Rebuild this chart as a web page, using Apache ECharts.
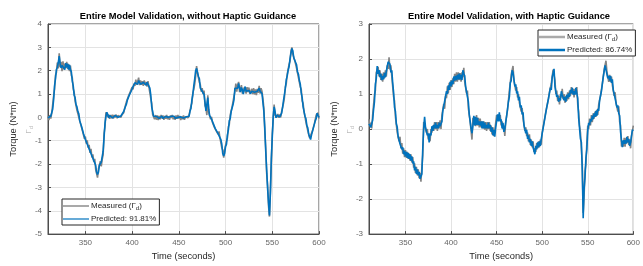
<!DOCTYPE html>
<html>
<head>
<meta charset="utf-8">
<script src="https://cdn.jsdelivr.net/npm/echarts@6/dist/echarts.min.js"></script>
<style>
  html, body { margin: 0; padding: 0; background: #fff; }
  #ec { width: 643px; height: 266px; }
</style>
</head>
<body>
<div id="ec"></div>
<script>
// time axis: one sample per second, 310 .. 600 s
var timeStart = 310;
var timeStep = 1;
var xTicks = [350, 400, 450, 500, 550, 600];

var titleLeft = 'Entire Model Validation, without Haptic Guidance';
var titleRight = 'Entire Model Validation, with Haptic Guidance';
var nameMeasured = 'Measured (Γd)';
var namePredLeft = 'Predicted: 91.81%';
var namePredRight = 'Predicted: 86.74%';

// left: without haptic guidance
var leftMeasured = [
  0.05, -0.12, 0.10, -0.05, 0.18, 0.22, 0.90, 1.20, 1.80, 1.92,
  2.35, 2.10, 2.75, 2.15, 2.38, 1.98, 2.40, 2.05, 2.30, 2.12,
  2.38, 2.08, 2.28, 1.98, 2.22, 1.80, 1.70, 1.22, 1.08, 0.70,
  0.68, 0.30, 0.38, 0.00, -0.02, -0.30, -0.28, -0.60, -0.55, -0.92,
  -0.82, -1.12, -0.98, -1.30, -1.18, -1.52, -1.35, -1.72, -1.58, -1.90,
  -1.78, -2.22, -2.15, -2.58, -2.20, -2.22, -1.88, -2.10, -1.80, -1.60,
  -0.70, -0.40, 0.22, 0.30, 0.02, 0.12, -0.06, 0.10, -0.04, 0.12,
  -0.05, 0.10, 0.00, 0.12, -0.04, 0.08, 0.02, 0.14, 0.00, 0.10,
  0.05, 0.20, 0.38, 0.40, 0.68, 0.62, 0.90, 0.82, 1.10, 1.02,
  1.30, 1.20, 1.45, 1.35, 1.62, 1.40, 1.55, 1.70, 1.38, 1.58,
  1.40, 1.55, 1.35, 1.58, 1.40, 1.52, 1.32, 1.55, 1.30, 1.35,
  0.80, 0.60, 0.12, 0.18, -0.08, 0.10, -0.10, 0.08, -0.12, 0.06,
  -0.08, 0.10, -0.05, 0.08, -0.10, 0.06, -0.06, 0.10, -0.08, 0.05,
  -0.10, 0.08, -0.02, 0.10, -0.08, 0.04, -0.10, 0.08, -0.06, 0.10,
  -0.05, 0.06, -0.12, 0.04, -0.08, 0.08, -0.10, 0.02, -0.06, 0.05,
  -0.02, 0.10, 0.18, 0.50, 0.62, 1.05, 1.20, 1.42, 1.75, 2.20,
  1.90, 1.85, 1.50, 1.40, 1.10, 1.25, 1.00, 1.15, 0.50, 0.40,
  0.10, 0.95, 0.20, 0.15, -0.08, 0.02, -0.22, -0.18, -0.42, -0.38,
  -0.58, -0.50, -0.72, -0.60, -0.88, -0.80, -1.30, -1.40, -1.72, -1.40,
  -1.38, -1.00, -0.88, -0.40, -0.30, 0.10, 0.12, 0.45, 0.42, 0.90,
  1.10, 1.45, 1.10, 1.40, 1.52, 1.08, 1.25, 1.38, 1.02, 1.12,
  1.28, 1.20, 1.02, 1.30, 1.08, 1.28, 1.00, 1.12, 1.22, 1.00,
  1.25, 0.98, 1.20, 0.95, 1.22, 1.05, 1.35, 1.02, 1.25, 1.12,
  0.80, 0.40, -0.60, -1.30, -2.40, -2.90, -3.80, -4.25, -3.10, -1.90,
  -0.70, -0.10, 0.55, 0.10, 0.08, 0.00, 0.15, -0.02, 0.12, 0.00,
  0.25, 0.30, 0.60, 0.85, 1.30, 1.45, 1.85, 1.92, 2.28, 2.40,
  2.85, 3.00, 2.70, 2.70, 2.45, 2.50, 2.10, 2.08, 1.70, 1.65,
  1.30, 1.20, 0.70, 0.60, 0.25, 0.20, -0.20, -0.28, -0.58, -0.65,
  -0.88, -0.85, -0.90, -0.58, -0.60, -0.28, -0.30, 0.10, 0.05, 0.20,
  -0.05
];
var leftPredicted = [
  -0.02, -0.05, 0.02, 0.06, 0.05, 0.35, 0.75, 1.35, 1.65, 2.05,
  2.15, 2.35, 2.62, 2.30, 2.12, 2.22, 2.20, 2.28, 2.05, 2.32,
  2.15, 2.30, 2.05, 2.25, 2.05, 1.95, 1.55, 1.35, 0.95, 0.85,
  0.55, 0.45, 0.25, 0.15, -0.15, -0.15, -0.40, -0.45, -0.70, -0.75,
  -0.95, -0.98, -1.15, -1.15, -1.35, -1.38, -1.55, -1.58, -1.75, -1.75,
  -1.95, -2.05, -2.35, -2.45, -2.35, -2.05, -2.05, -1.92, -1.95, -1.45,
  -0.85, -0.25, 0.05, 0.22, 0.12, -0.02, 0.08, 0.02, 0.12, -0.02,
  0.04, 0.02, 0.08, 0.00, 0.06, 0.00, 0.08, 0.04, 0.06, 0.02,
  0.10, 0.25, 0.30, 0.48, 0.58, 0.75, 0.78, 0.95, 0.98, 1.12,
  1.18, 1.32, 1.30, 1.48, 1.50, 1.52, 1.42, 1.58, 1.50, 1.42,
  1.50, 1.38, 1.50, 1.42, 1.50, 1.38, 1.50, 1.42, 1.42, 1.25,
  0.95, 0.45, 0.25, 0.05, 0.05, 0.00, 0.04, -0.02, 0.05, -0.04,
  0.04, 0.00, 0.05, -0.04, 0.03, 0.00, 0.04, -0.02, 0.02, 0.00,
  0.02, -0.03, 0.05, 0.00, -0.02, 0.05, -0.04, 0.02, 0.02, 0.00,
  0.03, -0.04, 0.02, -0.02, 0.04, -0.03, 0.02, 0.00, 0.03, -0.02,
  0.05, 0.05, 0.28, 0.38, 0.75, 0.98, 1.35, 1.65, 2.00, 2.10,
  2.05, 1.75, 1.65, 1.25, 1.22, 1.12, 1.08, 0.98, 0.65, 0.28,
  0.22, 0.85, 0.35, 0.08, 0.02, -0.08, -0.12, -0.28, -0.32, -0.48,
  -0.48, -0.62, -0.62, -0.78, -0.78, -0.95, -1.15, -1.55, -1.65, -1.55,
  -1.25, -1.15, -0.75, -0.55, -0.15, -0.05, 0.25, 0.30, 0.55, 0.75,
  1.25, 1.30, 1.25, 1.25, 1.45, 1.25, 1.08, 1.28, 1.18, 1.00,
  1.18, 1.32, 1.12, 1.15, 1.18, 1.15, 1.12, 1.02, 1.12, 1.12,
  1.15, 1.08, 1.08, 1.02, 1.12, 1.12, 1.25, 1.12, 1.18, 1.02,
  0.95, 0.25, -0.45, -1.45, -2.25, -3.05, -3.65, -4.20, -3.25, -1.75,
  -0.85, 0.05, 0.45, 0.25, -0.02, 0.10, 0.02, 0.10, 0.02, 0.10,
  0.18, 0.42, 0.72, 0.98, 1.25, 1.62, 1.78, 2.02, 2.18, 2.52,
  2.75, 2.95, 2.85, 2.55, 2.52, 2.35, 2.25, 1.95, 1.85, 1.58,
  1.42, 1.05, 0.85, 0.45, 0.38, 0.05, -0.05, -0.35, -0.45, -0.72,
  -0.75, -0.95, -0.75, -0.70, -0.45, -0.38, -0.15, -0.05, 0.18, 0.08,
  0.00
];

// right: with haptic guidance
var rightMeasured = [
  0.28, 0.08, 0.18, 0.02, 0.40, 0.45, 0.98, 1.10, 1.62, 1.68,
  1.78, 1.50, 1.68, 1.40, 1.58, 1.35, 1.62, 1.45, 1.68, 1.50,
  1.82, 1.72, 2.05, 1.70, 1.82, 1.50, 1.50, 0.92, 0.80, 0.35,
  0.30, -0.10, -0.05, -0.35, -0.22, -0.55, -0.40, -0.70, -0.55, -0.80,
  -0.60, -0.82, -0.65, -0.85, -0.70, -0.90, -0.72, -0.95, -0.80, -1.10,
  -0.98, -1.25, -1.08, -1.32, -1.15, -1.40, -1.25, -1.50, -1.10, -0.75,
  0.20, 0.22, 0.20, -0.10, 0.00, -0.30, -0.20, -0.35, 0.00, -0.10,
  0.10, -0.05, 0.20, 0.00, 0.20, -0.05, 0.20, 0.02, 0.25, 0.00,
  0.40, 0.35, 0.72, 0.58, 0.95, 0.88, 1.22, 1.02, 1.32, 1.12,
  1.40, 1.20, 1.45, 1.28, 1.58, 1.35, 1.62, 1.35, 1.62, 1.40,
  1.60, 1.35, 1.62, 1.48, 1.75, 1.35, 1.40, 1.02, 1.10, 0.60,
  0.60, 0.20, 0.20, -0.30, 0.32, 0.18, 0.35, 0.08, 0.40, 0.10,
  0.32, 0.05, 0.30, 0.05, 0.22, 0.02, 0.22, -0.02, 0.20, -0.05,
  0.20, 0.00, 0.20, -0.05, 0.10, -0.15, 0.05, -0.20, -0.05, -0.10,
  0.40, 0.25, 0.40, 0.30, 0.40, 0.10, 0.22, 0.00, 0.10, -0.20,
  0.20, 0.20, 0.55, 0.60, 1.10, 1.15, 1.55, 1.50, 1.80, 1.40,
  1.40, 1.10, 1.20, 0.90, 1.00, 0.75, 0.80, 0.50, 0.60, 0.30,
  0.30, -0.05, 0.05, -0.20, -0.10, -0.35, -0.15, -0.45, -0.30, -0.52,
  -0.35, -0.65, -0.55, -0.65, -0.40, -0.55, -0.35, -0.52, -0.30, -0.45,
  -0.10, -0.15, 0.20, 0.15, 0.50, 0.45, 0.75, 0.70, 1.05, 1.00,
  1.30, 1.30, 1.70, 1.55, 1.40, 1.00, 1.10, 0.80, 0.95, 0.70,
  1.00, 0.90, 1.15, 0.85, 1.00, 0.75, 0.95, 0.80, 1.05, 0.85,
  1.10, 0.95, 1.20, 1.00, 1.15, 0.90, 1.15, 1.00, 1.20, 0.70,
  0.50, 0.10, -0.10, -0.55, -1.00, -2.40, -1.90, -1.20, -1.00, -0.40,
  0.10, 0.00, 0.30, 0.10, 0.40, 0.20, 0.45, 0.30, 0.50, 0.35,
  0.55, 0.40, 0.70, 0.65, 0.95, 0.90, 1.30, 1.30, 1.70, 1.65,
  1.95, 1.65, 1.65, 1.35, 1.55, 1.35, 1.50, 1.25, 1.30, 0.95,
  1.05, 0.75, 0.80, 0.50, 0.65, 0.20, 0.10, -0.50, -0.35, -0.50,
  -0.25, -0.50, -0.25, -0.40, -0.20, -0.45, -0.30, -0.55, -0.20, -0.20,
  0.10
];
var rightPredicted = [
  0.15, 0.20, 0.05, 0.15, 0.25, 0.55, 0.78, 1.28, 1.45, 1.80,
  1.58, 1.68, 1.48, 1.58, 1.40, 1.52, 1.42, 1.60, 1.48, 1.65,
  1.62, 1.92, 1.95, 1.85, 1.62, 1.68, 1.32, 1.05, 0.62, 0.50,
  0.15, 0.05, -0.22, -0.18, -0.42, -0.38, -0.58, -0.52, -0.72, -0.62,
  -0.78, -0.65, -0.82, -0.68, -0.85, -0.72, -0.90, -0.78, -0.98, -0.92,
  -1.18, -1.08, -1.28, -1.15, -1.32, -1.22, -1.42, -1.40, -1.28, -0.55,
  0.02, 0.35, 0.05, 0.08, -0.18, -0.12, -0.38, -0.12, -0.18, 0.08,
  -0.05, 0.12, 0.02, 0.18, 0.02, 0.12, 0.02, 0.18, 0.08, 0.15,
  0.22, 0.52, 0.50, 0.80, 0.78, 1.08, 1.00, 1.25, 1.12, 1.35,
  1.22, 1.38, 1.28, 1.50, 1.38, 1.52, 1.40, 1.55, 1.42, 1.58,
  1.42, 1.55, 1.40, 1.68, 1.58, 1.52, 1.22, 1.25, 0.92, 0.78,
  0.42, 0.38, 0.02, -0.12, 0.10, 0.38, 0.10, 0.35, 0.12, 0.32,
  0.12, 0.22, 0.10, 0.22, 0.02, 0.22, 0.02, 0.18, 0.02, 0.12,
  0.02, 0.18, 0.02, 0.12, -0.08, 0.05, -0.18, -0.02, -0.22, 0.05,
  0.22, 0.42, 0.22, 0.48, 0.22, 0.28, 0.02, 0.18, -0.08, 0.00,
  0.02, 0.38, 0.38, 0.78, 0.92, 1.32, 1.38, 1.68, 1.62, 1.58,
  1.22, 1.28, 1.02, 1.08, 0.82, 0.92, 0.62, 0.68, 0.42, 0.48,
  0.12, 0.12, -0.12, -0.02, -0.28, -0.18, -0.38, -0.28, -0.48, -0.35,
  -0.52, -0.48, -0.72, -0.48, -0.58, -0.38, -0.52, -0.35, -0.48, -0.28,
  -0.28, 0.02, 0.02, 0.32, 0.32, 0.62, 0.58, 0.88, 0.88, 1.18,
  1.12, 1.48, 1.52, 1.72, 1.22, 1.18, 0.92, 0.98, 0.78, 0.88,
  0.82, 1.08, 0.98, 1.02, 0.82, 0.92, 0.78, 0.98, 0.88, 1.02,
  0.92, 1.12, 1.02, 1.18, 0.98, 1.08, 0.98, 1.18, 1.02, 0.88,
  0.32, 0.28, -0.28, -0.38, -1.20, -2.55, -1.70, -1.38, -0.82, -0.58,
  -0.05, 0.18, 0.12, 0.28, 0.22, 0.38, 0.28, 0.45, 0.35, 0.52,
  0.38, 0.58, 0.52, 0.82, 0.78, 1.08, 1.12, 1.48, 1.52, 1.82,
  1.85, 1.82, 1.45, 1.52, 1.38, 1.52, 1.32, 1.42, 1.12, 1.12,
  0.88, 0.92, 0.62, 0.68, 0.45, 0.38, -0.08, -0.32, -0.52, -0.32,
  -0.42, -0.32, -0.42, -0.22, -0.38, -0.28, -0.48, -0.38, -0.38, -0.02,
  -0.05
];

var ec = echarts.init(document.getElementById('ec'));

var BLUE = '#0072BD';
var GRAY = '#858585';
var AX = '#4d4d4d';
var FONT = 'Liberation Sans, Arial, sans-serif';

function pairs(arr) {
  return arr.map(function(v, i) { return [timeStart + i * timeStep, v]; });
}

function xAx(gi) {
  return {
    type: 'value', gridIndex: gi, min: 310, max: 600,
    name: 'Time (seconds)', nameLocation: 'middle', nameGap: 17,
    nameTextStyle: { color: '#262626', fontSize: 9.3, fontFamily: FONT },
    axisLine: { show: true, onZero: false, lineStyle: { color: AX, width: 1 } },
    axisTick: { show: true, inside: true, length: 3, customValues: xTicks, lineStyle: { color: AX } },
    axisLabel: { customValues: xTicks, color: '#666', fontSize: 8, fontFamily: FONT, margin: 5 },
    splitLine: { show: true, lineStyle: { color: '#e3e3e3', width: 1 } }
  };
}

function yAx(gi, mn, mx) {
  return {
    type: 'value', gridIndex: gi, min: mn, max: mx, interval: 1,
    name: 'Torque (N*m)', nameLocation: 'middle', nameGap: 30,
    nameTextStyle: { color: '#262626', fontSize: 9.3, fontFamily: FONT },
    axisLine: { show: true, onZero: false, lineStyle: { color: AX, width: 1 } },
    axisTick: { show: true, inside: true, length: 3, lineStyle: { color: AX } },
    axisLabel: { color: '#666', fontSize: 8, fontFamily: FONT, margin: 6 },
    splitLine: { show: true, lineStyle: { color: '#e3e3e3', width: 1 } }
  };
}

function line(name, arr, gi, color, w, z) {
  return {
    name: name, type: 'line', xAxisIndex: gi, yAxisIndex: gi,
    data: pairs(arr), showSymbol: false, symbol: 'none', z: z,
    lineStyle: { color: color, width: w }, itemStyle: { color: color },
    animation: false, silent: true
  };
}

function legendFmt(name) {
  return name.replace('Γd', 'Γ{sub|d}');
}

function leg(left, top, names, measuredW, measuredC) {
  return {
    orient: 'vertical', left: left, top: top,
    data: names.map(function(n, i) {
      return { name: n, icon: 'rect', itemStyle: { color: i === 0 ? measuredC : BLUE } };
    }),
    itemWidth: 26, itemHeight: measuredW, itemGap: 4,
    padding: [3, 3, 2, 1],
    backgroundColor: '#fff', borderColor: '#262626', borderWidth: 1, borderRadius: 0,
    selectedMode: false,
    formatter: legendFmt,
    textStyle: {
      color: '#262626', fontSize: 8, fontFamily: FONT, padding: [0, 0, 0, -3],
      rich: { sub: { fontSize: 6, fontFamily: FONT, color: '#262626', padding: [4, 0, 0, 0] } }
    }
  };
}

function ghost(x, y) {
  return {
    type: 'text', left: x, top: y, rotation: Math.PI / 2, silent: true,
    style: { text: 'Γ{s|d}', fill: '#bbb', fontSize: 8, fontFamily: FONT,
      rich: { s: { fontSize: 6, fill: '#bbb', padding: [4, 0, 0, 0] } } }
  };
}

var option = {
  backgroundColor: '#fff',
  animation: false,
  title: [
    { text: titleLeft, left: 183, top: 7, textAlign: 'center',
      textStyle: { fontSize: 9.3, fontWeight: 'bold', color: '#000', fontFamily: FONT } },
    { text: titleRight, left: 504, top: 7, textAlign: 'center',
      textStyle: { fontSize: 9.3, fontWeight: 'bold', color: '#000', fontFamily: FONT } }
  ],
  grid: [
    { left: 48, top: 24, width: 271, height: 213, show: true, borderColor: AX, borderWidth: 1, backgroundColor: '#fff' },
    { left: 369, top: 24, width: 270, height: 213, show: true, borderColor: AX, borderWidth: 1, backgroundColor: '#fff' }
  ],
  xAxis: [xAx(0), xAx(1)],
  yAxis: [yAx(0, -5, 4), yAx(1, -3, 3)],
  legend: [
    leg(62, 199, [nameMeasured, namePredLeft], 1.2, '#707070'),
    leg(538, 30, [nameMeasured, namePredRight], 2.5, '#aaa')
  ],
  graphic: [ghost(25, 126), ghost(346, 126)],
  series: [
    line(nameMeasured, leftMeasured, 0, GRAY, 1.6, 2),
    line(namePredLeft, leftPredicted, 0, BLUE, 1.6, 3),
    line(nameMeasured, rightMeasured, 1, GRAY, 1.6, 2),
    line(namePredRight, rightPredicted, 1, BLUE, 1.6, 3)
  ]
};

ec.setOption(option);
</script>
</body>
</html>
